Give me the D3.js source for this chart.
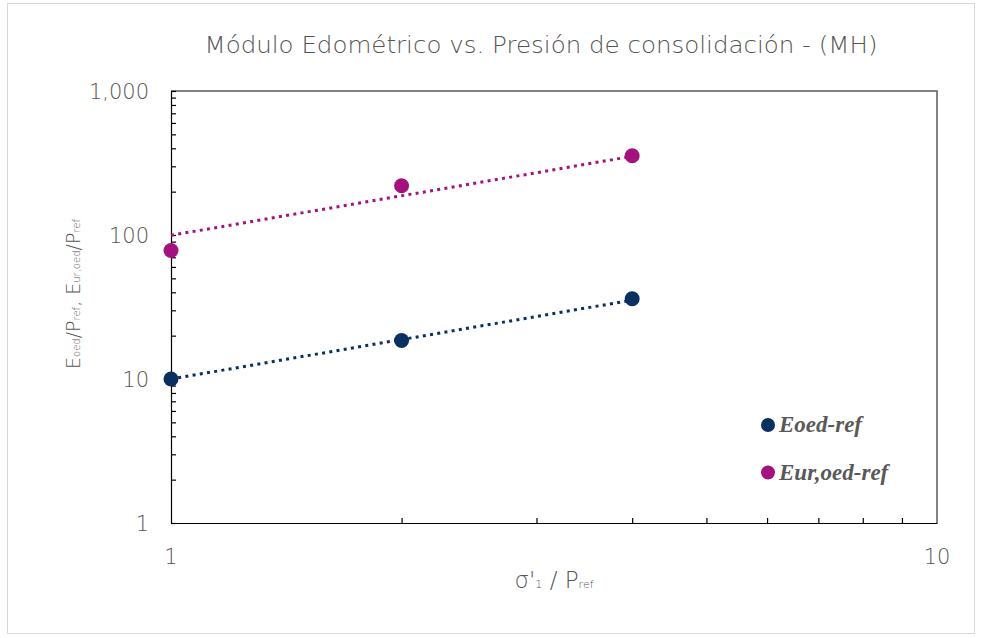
<!DOCTYPE html>
<html>
<head>
<meta charset="utf-8">
<script src="https://cdn.jsdelivr.net/npm/d3@7"></script>
<style>
  html, body { margin: 0; padding: 0; background: #fff; }
  svg { display: block; }
  .lbl { font-family: "DejaVu Sans", "Noto Sans", sans-serif; font-weight: 300; fill: #555; }
  .leg { font-family: "Liberation Serif", "DejaVu Serif", serif; font-style: italic; font-weight: bold; fill: #595959; }
</style>
</head>
<body>
<svg id="chart" width="982" height="638"></svg>
<script>
// Normalised stress levels σ'1 / Pref
const stress = [1, 2, 4];
// Oedometric modulus (normalised)
const eoedRef = [10.0, 18.5, 36.1];
// Unloading-reloading oedometric modulus (normalised)
const eurOedRef = [78, 220, 355];
// Power-law trendlines, value at the first and last stress level
const trendX = [1, 4];
const eoedTrend = [10.0, 35.3];
const eurOedTrend = [99.5, 352];

const xTicks = [1, 10];
const yTicks = [1, 10, 100, 1000];

const seriesNames = ["Eoed-ref", "Eur,oed-ref"];
const seriesColors = ["#0a3060", "#a3127f"];

const svg = d3.select("#chart");
const W = 982, H = 638;
const m = { left: 171, right: W - 937, top: 91, bottom: H - 523 };

// Chart area border
svg.append("rect")
  .attr("x", 7.5).attr("y", 3.5)
  .attr("width", 967).attr("height", 630)
  .attr("fill", "#fff").attr("stroke", "#d9d9d9").attr("stroke-width", 1);

const x = d3.scaleLog().domain([1, 10]).range([m.left, W - m.right]);
const y = d3.scaleLog().domain([1, 1000]).range([H - m.bottom, m.top]);

// Plot frame (top and right)
svg.append("path")
  .attr("d", `M${x(1)},${y(1000)}H${x(10)}V${y(1)}`)
  .attr("fill", "none").attr("stroke", "#595959").attr("stroke-width", 1.5);

// Minor tick values for the log axes
const minorX = d3.range(2, 10);
const minorY = [];
[1, 10, 100].forEach(d => { for (let k = 1; k < 10; k++) minorY.push(d * k); });
minorY.push(1000);

const xAxis = d3.axisBottom(x).tickValues(minorX).tickSizeInner(-5).tickSizeOuter(0).tickFormat("");
const yAxis = d3.axisLeft(y).tickValues(minorY).tickSizeInner(-5).tickSizeOuter(0).tickFormat("");

svg.append("g").attr("transform", `translate(0,${y(1)})`).call(xAxis)
  .call(g => g.selectAll("path,line").attr("stroke", "#000").attr("stroke-width", 1.2));
svg.append("g").attr("transform", `translate(${x(1)},0)`).call(yAxis)
  .call(g => g.selectAll("path,line").attr("stroke", "#000").attr("stroke-width", 1.2));

// Tick labels
const fmt = d3.format(",");
svg.append("g").selectAll("text").data(xTicks).join("text")
  .attr("class", "lbl")
  .attr("x", d => x(d)).attr("y", 564)
  .attr("text-anchor", "middle")
  .attr("font-size", 21)
  .text(d => fmt(d));
svg.append("g").selectAll("text").data(yTicks).join("text")
  .attr("class", "lbl")
  .attr("x", 149).attr("y", d => y(d) + 8)
  .attr("text-anchor", "end")
  .attr("font-size", 21)
  .text(d => fmt(d));

// Title
svg.append("text")
  .attr("class", "lbl")
  .attr("x", 541).attr("y", 53)
  .attr("text-anchor", "middle")
  .attr("font-size", 23)
  .attr("textLength", 673).attr("lengthAdjust", "spacingAndGlyphs")
  .text("Módulo Edométrico vs. Presión de consolidación - (MH)");

// X axis title: σ'1 / Pref
const xt = svg.append("text")
  .attr("class", "lbl")
  .attr("x", 554).attr("y", 588)
  .attr("text-anchor", "middle")
  .attr("font-size", 23);
xt.append("tspan").text("σ'");
xt.append("tspan").attr("font-size", 11).text("1");
xt.append("tspan").text(" / P");
xt.append("tspan").attr("font-size", 11).text("ref");

// Y axis title: Eoed/Pref, Eur,oed/Pref
const yt = svg.append("text")
  .attr("class", "lbl")
  .attr("transform", `translate(80,294) rotate(-90)`)
  .attr("text-anchor", "middle")
  .attr("font-size", 19);
yt.append("tspan").text("E");
yt.append("tspan").attr("font-size", 10).text("oed");
yt.append("tspan").text("/P");
yt.append("tspan").attr("font-size", 10).text("ref");
yt.append("tspan").text(", E");
yt.append("tspan").attr("font-size", 10).text("ur,oed");
yt.append("tspan").text("/P");
yt.append("tspan").attr("font-size", 10).text("ref");

// Trendlines
const line = d3.line().x(d => x(d[0])).y(d => y(d[1]));
[eoedTrend, eurOedTrend].forEach((t, i) => {
  svg.append("path")
    .datum(trendX.map((xv, j) => [xv, t[j]]))
    .attr("d", line)
    .attr("fill", "none")
    .attr("stroke", seriesColors[i])
    .attr("stroke-width", 3)
    .attr("stroke-dasharray", "3 4.3");
});

// Data points
[eoedRef, eurOedRef].forEach((vals, i) => {
  svg.append("g").selectAll("circle").data(stress.map((s, j) => [s, vals[j]])).join("circle")
    .attr("cx", d => x(d[0])).attr("cy", d => y(d[1]))
    .attr("r", 7.5)
    .attr("fill", seriesColors[i]);
});

// Legend
const legend = svg.append("g");
seriesNames.forEach((name, i) => {
  const ly = 425 + i * 47.5;
  legend.append("circle").attr("cx", 768).attr("cy", ly).attr("r", 7).attr("fill", seriesColors[i]);
  legend.append("text")
    .attr("class", "leg")
    .attr("x", 779).attr("y", ly + 7)
    .attr("font-size", 23)
    .text(name);
});
</script>
</body>
</html>
